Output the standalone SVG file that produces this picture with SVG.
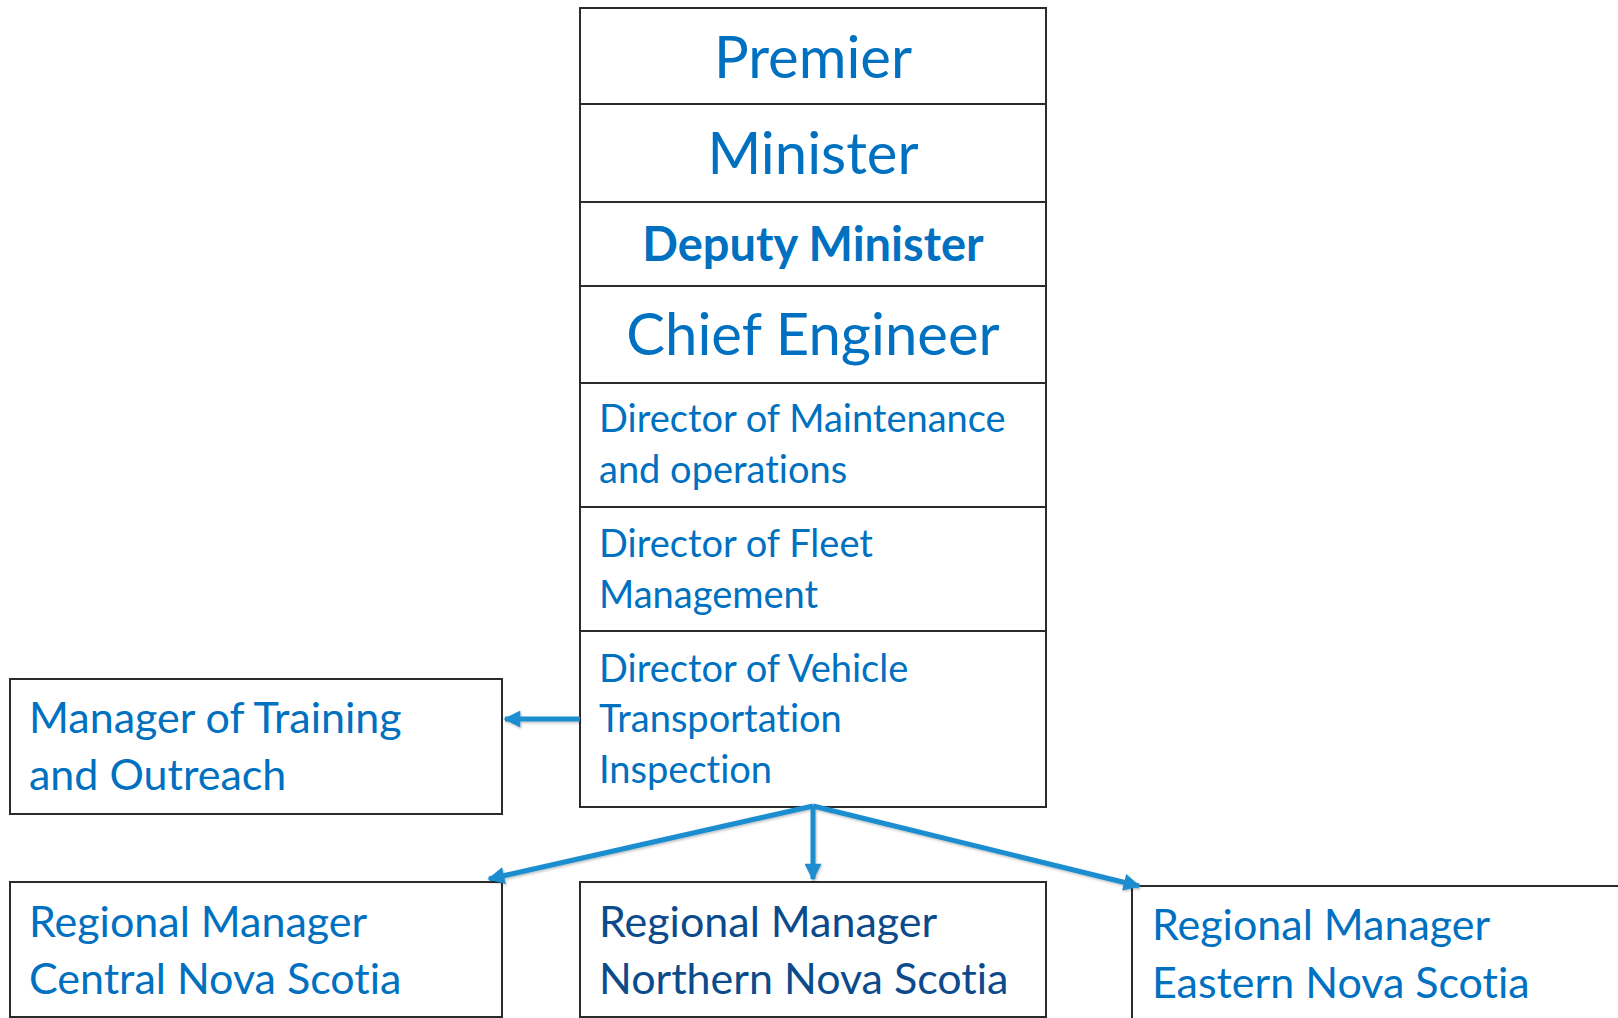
<svg xmlns="http://www.w3.org/2000/svg" width="1618" height="1018" viewBox="0 0 1618 1018">
  <style>
    .box { fill: #ffffff; stroke: #2b2b2b; stroke-width: 2; }
    .t { font-family: Lato, "Noto Sans", "Liberation Sans", sans-serif; fill: #0070C0; font-variant-ligatures: none; font-feature-settings: "liga" 0, "dlig" 0; }
    .big { font-size: 58px; }
    .bold { font-size: 47px; font-weight: bold; }
    .dir { font-size: 38px; }
    .mgr { font-size: 43px; }
    .dark { fill: #0B4A8B; }
    .link { stroke: #1B8ED0; stroke-width: 5; fill: none; marker-end: url(#head); }
  </style>
  <defs>
    <marker id="head" viewBox="0 0 10 10" refX="9" refY="5" markerWidth="4" markerHeight="3.4" orient="auto" markerUnits="strokeWidth">
      <path d="M0,0 L10,5 L0,10 z" fill="#1B8ED0"/>
    </marker>
    <filter id="shadow" x="-10%" y="-10%" width="120%" height="120%">
      <feDropShadow dx="1" dy="1.5" stdDeviation="1.2" flood-color="#000" flood-opacity="0.25"/>
    </filter>
  </defs>

  <!-- central chain of command -->
  <g id="premier">
    <rect class="box" x="580" y="8" width="466" height="96"/>
    <text class="t big" x="813" y="78" text-anchor="middle">Premier</text>
  </g>
  <g id="minister">
    <rect class="box" x="580" y="104" width="466" height="98"/>
    <text class="t big" x="813" y="174" text-anchor="middle">Minister</text>
  </g>
  <g id="deputy-minister">
    <rect class="box" x="580" y="202" width="466" height="84"/>
    <text class="t bold" x="813" y="261" text-anchor="middle">Deputy Minister</text>
  </g>
  <g id="chief-engineer">
    <rect class="box" x="580" y="286" width="466" height="97"/>
    <text class="t big" x="813" y="355" text-anchor="middle">Chief Engineer</text>
  </g>
  <g id="director-maintenance">
    <rect class="box" x="580" y="383" width="466" height="124"/>
    <text class="t dir" x="599" y="432">Director of Maintenance</text>
    <text class="t dir" x="599" y="483">and operations</text>
  </g>
  <g id="director-fleet">
    <rect class="box" x="580" y="507" width="466" height="124"/>
    <text class="t dir" x="599" y="557">Director of Fleet</text>
    <text class="t dir" x="599" y="608">Management</text>
  </g>
  <g id="director-vehicle">
    <rect class="box" x="580" y="631" width="466" height="176"/>
    <text class="t dir" x="599" y="682">Director of Vehicle</text>
    <text class="t dir" x="599" y="732">Transportation</text>
    <text class="t dir" x="599" y="783">Inspection</text>
  </g>

  <!-- reports -->
  <g id="manager-training">
    <rect class="box" x="10" y="679" width="492" height="135"/>
    <text class="t mgr" x="29" y="733">Manager of Training</text>
    <text class="t mgr" x="29" y="790">and Outreach</text>
  </g>
  <g id="regional-central">
    <rect class="box" x="10" y="882" width="492" height="135"/>
    <text class="t mgr" x="29" y="937">Regional Manager</text>
    <text class="t mgr" x="29" y="994">Central Nova Scotia</text>
  </g>
  <g id="regional-northern">
    <rect class="box" x="580" y="882" width="466" height="135"/>
    <text class="t mgr dark" x="599" y="937">Regional Manager</text>
    <text class="t mgr dark" x="599" y="994">Northern Nova Scotia</text>
  </g>
  <g id="regional-eastern">
    <rect class="box" x="1132" y="886" width="520" height="160"/>
    <text class="t mgr" x="1152" y="940">Regional Manager</text>
    <text class="t mgr" x="1152" y="998">Eastern Nova Scotia</text>
  </g>

  <!-- connectors -->
  <g id="connectors" filter="url(#shadow)">
    <line class="link" x1="580" y1="719" x2="505" y2="719"/>
    <line class="link" x1="813" y1="806" x2="489" y2="879"/>
    <line class="link" x1="813" y1="806" x2="813" y2="879"/>
    <line class="link" x1="813" y1="806" x2="1139" y2="886"/>
  </g>
</svg>
